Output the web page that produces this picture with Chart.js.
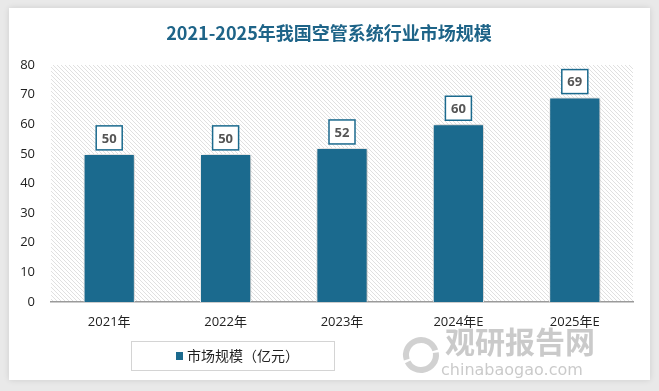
<!DOCTYPE html>
<html>
<head>
<meta charset="utf-8">
<script src="https://cdn.jsdelivr.net/npm/chart.js@4"></script>
<style>
  body { margin: 0; background: #e9e9e9; width: 659px; height: 391px; overflow: hidden; }
  .card { position: absolute; left: 9px; top: 8px; width: 641px; height: 372px; background: #fff;
          box-shadow: 0 0 6px rgba(0,0,0,0.12); }
  canvas { position: absolute; left: 0; top: 0; }
</style>
</head>
<body>
<div class="card"></div>
<canvas id="grafico" width="659" height="391"></canvas>
<script>
const anos = ['2021年', '2022年', '2023年', '2024年E', '2025年E'];
const valores = [50, 50, 52, 60, 69];
const ticksY = [0, 10, 20, 30, 40, 50, 60, 70, 80];
const titulo = '2021-2025年我国空管系统行业市场规模';
const legenda = '市场规模（亿元）';
const azul = '#1b6a8e';

// listras diagonais do fundo
const pat = document.createElement('canvas');
pat.width = 4; pat.height = 4;
const pc = pat.getContext('2d');
pc.fillStyle = '#ffffff';
pc.fillRect(0, 0, 4, 4);
pc.strokeStyle = '#e0e0e0';
pc.lineWidth = 1;
pc.beginPath();
pc.moveTo(-1, -1); pc.lineTo(5, 5);
pc.moveTo(-1, 3); pc.lineTo(1, 5);
pc.moveTo(3, -1); pc.lineTo(5, 1);
pc.stroke();

const extras = {
  id: 'extras',
  beforeDraw(chart) {
    const { ctx, chartArea: a } = chart;
    ctx.save();
    ctx.fillStyle = ctx.createPattern(pat, 'repeat');
    ctx.fillRect(a.left, a.top, a.right - a.left, a.bottom - a.top);
    ctx.restore();
    // titulo
    ctx.save();
    ctx.font = 'bold 18px "Noto Sans CJK SC"';
    ctx.fillStyle = '#1e6488';
    ctx.textAlign = 'center';
    ctx.textBaseline = 'middle';
    ctx.fillText(titulo, 329, 33);
    ctx.restore();
  },
  beforeDatasetsDraw(chart) {
    const ctx = chart.ctx;
    ctx.save();
    ctx.shadowColor = 'rgba(0,0,0,0.35)';
    ctx.shadowBlur = 5;
    ctx.shadowOffsetX = 1;
    ctx.shadowOffsetY = 0;
  },
  afterDatasetsDraw(chart) {
    const ctx = chart.ctx;
    ctx.restore();
    // rotulos
    const meta = chart.getDatasetMeta(0);
    ctx.save();
    ctx.font = 'bold 13px "Open Sans"';
    ctx.textAlign = 'center';
    ctx.textBaseline = 'middle';
    meta.data.forEach((bar, i) => {
      const w = 26, h = 24;
      const x = bar.x - w / 2, y = bar.y - 4 - h;
      ctx.fillStyle = '#fff';
      ctx.fillRect(x, y, w, h);
      ctx.strokeStyle = azul;
      ctx.lineWidth = 1.5;
      ctx.strokeRect(x, y, w, h);
      ctx.fillStyle = '#555';
      ctx.fillText(String(valores[i]), bar.x, y + h / 2 + 1);
    });
    ctx.restore();
  },
  afterDraw(chart) {
    const ctx = chart.ctx;
    // legenda
    ctx.save();
    ctx.fillStyle = '#fff';
    ctx.fillRect(131, 341, 203, 29);
    ctx.strokeStyle = '#d4d4d4';
    ctx.lineWidth = 1;
    ctx.strokeRect(131.5, 341.5, 203, 29);
    ctx.fillStyle = azul;
    ctx.fillRect(176, 352, 7, 8);
    ctx.font = '14px "Noto Sans CJK SC"';
    ctx.fillStyle = '#222';
    ctx.textBaseline = 'middle';
    ctx.fillText(legenda, 187, 356);
    // marca d'agua
    ctx.globalAlpha = 0.45;
    ctx.fillStyle = '#8a8a8a';
    ctx.font = 'bold 30px "Noto Sans CJK SC"';
    ctx.fillText('观研报告网', 445, 342);
    ctx.font = '16px "DejaVu Sans"';
    ctx.fillText('chinabaogao.com', 441, 371);
    ctx.lineWidth = 6;
    ctx.strokeStyle = '#9a9a9a';
    ctx.beginPath();
    ctx.arc(421, 355, 15, Math.PI * 0.9, Math.PI * 1.9);
    ctx.stroke();
    ctx.beginPath();
    ctx.arc(421, 355, 15, Math.PI * 1.95, Math.PI * 0.85);
    ctx.stroke();
    ctx.restore();
  }
};

new Chart(document.getElementById('grafico'), {
  type: 'bar',
  data: {
    labels: anos,
    datasets: [{
      label: legenda,
      data: valores,
      backgroundColor: azul,
      borderColor: '#ffffff',
      borderWidth: 1,
      categoryPercentage: 1,
      barPercentage: 0.44
    }]
  },
  options: {
    responsive: false,
    animation: false,
    layout: { padding: { left: 8, right: 26, top: 65, bottom: 0 } },
    plugins: {
      legend: { display: false },
      title: { display: false },
      tooltip: { enabled: false }
    },
    scales: {
      x: {
        grid: { display: false, drawTicks: false },
        border: { display: true, color: '#9a9a9a', width: 1.5 },
        ticks: { color: '#222', font: { size: 13, family: '"Open Sans", "Noto Sans CJK SC"' }, padding: 12 },
        afterFit(s) { s.height = 89; }
      },
      y: {
        min: 0,
        max: 80,
        afterBuildTicks(s) { s.ticks = ticksY.map(v => ({ value: v })); },
        grid: { display: false, drawTicks: false },
        border: { display: false },
        ticks: { color: '#222', font: { size: 13, family: '"Open Sans"' }, padding: 16 },
        afterFit(s) { s.width = 43; }
      }
    }
  },
  plugins: [extras]
});
</script>
</body>
</html>
